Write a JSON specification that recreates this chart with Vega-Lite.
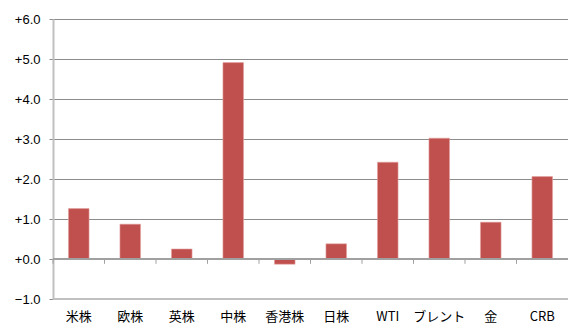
{
  "$schema": "https://vega.github.io/schema/vega-lite/v6.json",
  "width": 515,
  "height": 280,
  "autosize": "none",
  "padding": {"left": 53, "top": 19, "right": 0, "bottom": 33},
  "background": "white",
  "config": {"view": {"stroke": null}},
  "data": {
    "values": [
      {"name": "米株", "value": 1.26},
      {"name": "欧株", "value": 0.87},
      {"name": "英株", "value": 0.25},
      {"name": "中株", "value": 4.91},
      {"name": "香港株", "value": -0.13},
      {"name": "日株", "value": 0.38},
      {"name": "WTI", "value": 2.42},
      {"name": "ブレント", "value": 3.02},
      {"name": "金", "value": 0.92},
      {"name": "CRB", "value": 2.06}
    ]
  },
  "layer": [
    {
      "mark": {"type": "bar", "color": "#C0504D", "stroke": "#e3a3a1", "strokeWidth": 0.6},
      "encoding": {
        "x": {
          "field": "name",
          "type": "nominal",
          "sort": null,
          "scale": {"paddingInner": 0.6, "paddingOuter": 0.3},
          "axis": {
            "orient": "bottom",
            "title": null,
            "domain": false,
            "ticks": false,
            "labelAngle": 0,
            "labelOverlap": false,
            "labelFont": "Noto Sans CJK JP",
            "labelFontSize": 13,
            "labelColor": "#000000",
            "labelPadding": 11
          }
        },
        "y": {
          "field": "value",
          "type": "quantitative",
          "scale": {"domain": [-1, 6], "nice": false, "zero": false},
          "axis": {
            "title": null,
            "values": [-1, 0, 1, 2, 3, 4, 5, 6],
            "format": "+.1f",
            "grid": true,
            "gridColor": "#8c8c8c",
            "gridWidth": 1,
            "domainColor": "#c0c0c0",
            "domainWidth": 2,
            "tickColor": "#8c8c8c",
            "tickSize": 4,
            "labelOverlap": false,
            "labelFlush": false,
            "labelBound": false,
            "labelFont": "Liberation Sans",
            "labelFontSize": 13,
            "labelPadding": 9,
            "encode": {"labels": {"update": {"fill": {"signal": "datum.value < -0.5 ? '#ff0000' : '#000000'"}}}}
          }
        }
      }
    },
    {
      "mark": {"type": "rule", "color": "#c0c0c0", "strokeWidth": 2},
      "encoding": {"y": {"datum": -1, "type": "quantitative", "axis": null}}
    },
    {
      "mark": {"type": "rule", "color": "#a0a0a0", "strokeWidth": 1.5},
      "encoding": {"y": {"datum": 0, "type": "quantitative", "axis": null}}
    },
    {
      "mark": {"type": "rule", "color": "#a0a0a0", "strokeWidth": 1},
      "encoding": {
        "x": {
          "field": "name",
          "type": "nominal",
          "sort": null,
          "bandPosition": 0,
          "scale": {"paddingInner": 0, "paddingOuter": 0},
          "axis": null
        },
        "y": {"datum": 0, "type": "quantitative", "axis": null},
        "y2": {"datum": -0.12}
      }
    }
  ],
  "resolve": {"scale": {"x": "independent"}, "axis": {"y": "independent"}}
}
